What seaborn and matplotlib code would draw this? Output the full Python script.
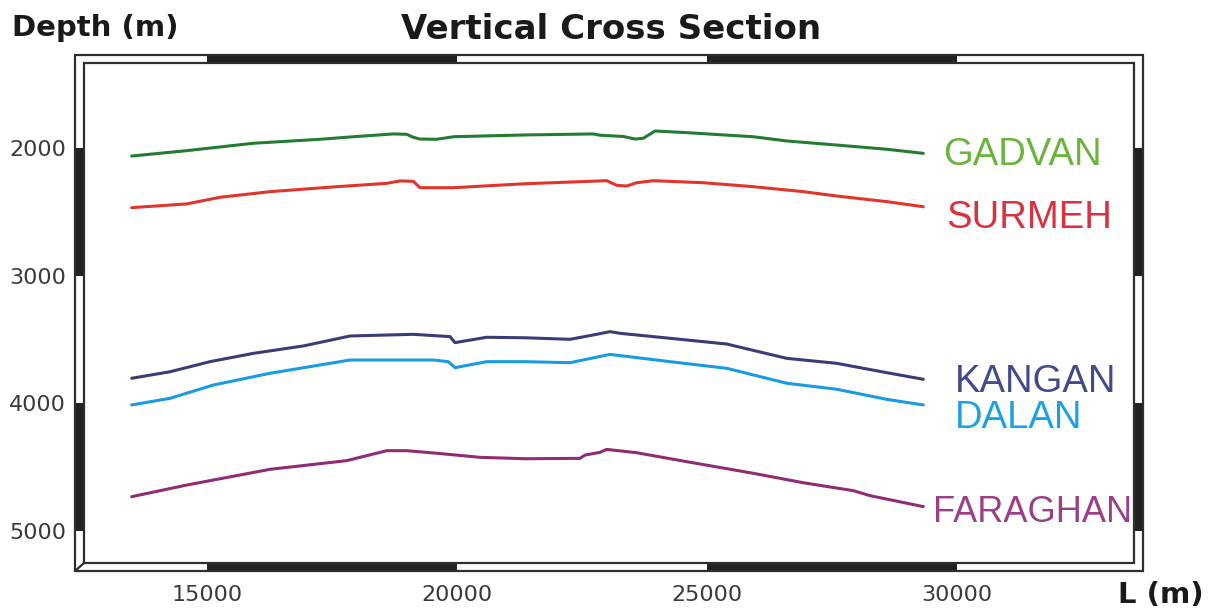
import numpy as np
import pandas as pd
import matplotlib
matplotlib.use("Agg")
import matplotlib.pyplot as plt
import matplotlib.transforms as mtransforms
from matplotlib.patches import Rectangle
from matplotlib.lines import Line2D
import seaborn as sns

# Horizon tops along the section: distance L (m) and depth (m)
gadvan_l = [13494, 14594, 15926, 17260, 17926, 18726, 18993, 19126, 19260, 19593, 19926,
            21360, 22726, 22860, 23326, 23560, 23726, 23960, 24594, 25926, 26594, 27594,
            28594, 29326]
gadvan_d = [2063, 2021, 1963, 1932, 1912, 1890, 1893, 1916, 1930, 1932, 1912,
            1898, 1890, 1900, 1910, 1930, 1924, 1867, 1880, 1912, 1945, 1977,
            2010, 2042]

surmeh_l = [13494, 14594, 15260, 16260, 17594, 18594, 18860, 19126, 19260, 19926, 21360,
            22994, 23194, 23394, 23594, 23926, 24926, 25926, 26926, 27594, 28594, 29326]
surmeh_d = [2467, 2438, 2386, 2342, 2303, 2277, 2258, 2261, 2311, 2311, 2280,
            2256, 2292, 2298, 2272, 2256, 2272, 2303, 2342, 2376, 2420, 2460]

kangan_l = [13494, 14260, 15060, 15926, 16926, 17860, 19126, 19860, 19960, 20594, 21360,
            22260, 22726, 23060, 23260, 24260, 25394, 26594, 27594, 28594, 29326]
kangan_d = [3803, 3752, 3673, 3608, 3550, 3472, 3459, 3477, 3524, 3482, 3486,
            3498, 3464, 3438, 3451, 3490, 3535, 3647, 3686, 3759, 3811]

dalan_l = [13494, 14260, 15126, 16260, 17260, 17860, 19526, 19826, 19960, 20594, 21360,
           22260, 23060, 24260, 25394, 26594, 27594, 28594, 29326]
dalan_d = [4012, 3960, 3856, 3764, 3699, 3660, 3660, 3673, 3720, 3673, 3673,
           3681, 3616, 3673, 3725, 3842, 3889, 3968, 4012]

faraghan_l = [13494, 14594, 16260, 17794, 18594, 18994, 19594, 20460, 21360, 22460, 22560,
              22860, 22994, 23594, 24594, 25926, 26926, 27926, 28260, 29326]
faraghan_d = [4730, 4639, 4516, 4448, 4370, 4370, 4390, 4422, 4433, 4430, 4404,
              4383, 4360, 4386, 4456, 4547, 4621, 4683, 4722, 4808]

horizons = ["GADVAN", "SURMEH", "KANGAN", "DALAN", "FARAGHAN"]
x_ticks = [15000, 20000, 25000, 30000]
y_ticks = [2000, 3000, 4000, 5000]

series = {
    "GADVAN": (gadvan_l, gadvan_d),
    "SURMEH": (surmeh_l, surmeh_d),
    "KANGAN": (kangan_l, kangan_d),
    "DALAN": (dalan_l, dalan_d),
    "FARAGHAN": (faraghan_l, faraghan_d),
}

line_colors = {"GADVAN": "#237b34", "SURMEH": "#e0342c", "KANGAN": "#3b3b76",
               "DALAN": "#1a9be0", "FARAGHAN": "#8e2d72"}
label_colors = {"GADVAN": "#6ab43e", "SURMEH": "#d9323e", "KANGAN": "#434a88",
                "DALAN": "#1ea0e4", "FARAGHAN": "#9b3f87"}
# label anchor (left edge, baseline) in section coordinates, and font size
label_pos = {"GADVAN": (29720, 2133), "SURMEH": (29780, 2626), "KANGAN": (29960, 3911),
             "DALAN": (29960, 4192), "FARAGHAN": (29520, 4928)}
label_size = {"GADVAN": 27.5, "SURMEH": 27.5, "KANGAN": 27.5, "DALAN": 27.5, "FARAGHAN": 26}

sns.set_theme(style="white")
plt.rcParams["font.family"] = ["DejaVu Sans"]

W, H = 1212, 613
fig = plt.figure(figsize=(W / 100, H / 100), dpi=100)
fig.patch.set_facecolor("white")
ax_l, ax_r, ax_t, ax_b = 75, 1143, 55, 571
ax = fig.add_axes([ax_l / W, 1 - ax_b / H, (ax_r - ax_l) / W, (ax_b - ax_t) / H])

frames = []
for name in horizons:
    l, d = series[name]
    frames.append(pd.DataFrame({"L": l, "Depth": d, "Horizon": name}))
df = pd.concat(frames, ignore_index=True)

sns.lineplot(data=df, x="L", y="Depth", hue="Horizon", palette=line_colors,
             estimator=None, sort=False, linewidth=2.2, legend=False, ax=ax)

ax.set_xlim(12360, 33720)
ax.set_ylim(5312, 1272)
ax.set_xticks(x_ticks)
ax.set_yticks(y_ticks)
ax.set_xticklabels([str(v) for v in x_ticks])
ax.set_yticklabels([str(v) for v in y_ticks])
ax.tick_params(axis="both", length=0, labelsize=16, labelcolor="#3a3a3a")
ax.tick_params(axis="y", pad=6.5)
ax.tick_params(axis="x", pad=10)
ax.set_xlabel("")
ax.set_ylabel("")
ax.grid(False)
for sp in ax.spines.values():
    sp.set_visible(False)

# Neatline: double frame with alternating black bands
fx0 = 9 / (ax_r - ax_l)
fy0 = 8 / (ax_b - ax_t)
edge = "#2e2e2e"
xband = mtransforms.blended_transform_factory(ax.transData, ax.transAxes)
yband = mtransforms.blended_transform_factory(ax.transAxes, ax.transData)
for x0 in (15000, 25000):
    ax.add_patch(Rectangle((x0, 1 - fy0), 5000, fy0, transform=xband,
                           facecolor="#222222", edgecolor="none", clip_on=False, zorder=3))
    ax.add_patch(Rectangle((x0, 0), 5000, fy0, transform=xband,
                           facecolor="#222222", edgecolor="none", clip_on=False, zorder=3))
for y0 in (2000, 4000):
    ax.add_patch(Rectangle((0, y0), fx0, 1000, transform=yband,
                           facecolor="#222222", edgecolor="none", clip_on=False, zorder=3))
    ax.add_patch(Rectangle((1 - fx0, y0), fx0, 1000, transform=yband,
                           facecolor="#222222", edgecolor="none", clip_on=False, zorder=3))
ax.add_patch(Rectangle((0, 0), 1, 1, transform=ax.transAxes, facecolor="none",
                       edgecolor=edge, linewidth=1.6, clip_on=False, zorder=4))
ax.add_patch(Rectangle((fx0, fy0), 1 - 2 * fx0, 1 - 2 * fy0, transform=ax.transAxes,
                       facecolor="none", edgecolor=edge, linewidth=1.6, clip_on=False, zorder=4))
ax.add_line(Line2D([0, fx0], [0, fy0], transform=ax.transAxes, color=edge,
                   linewidth=1.6, clip_on=False, zorder=4))

# Horizon names
for name in horizons:
    x, y = label_pos[name]
    ax.text(x, y, name, color=label_colors[name], fontsize=label_size[name],
            va="baseline", ha="left", family=["Liberation Sans", "DejaVu Sans"], zorder=5)

fig.text(611 / W, 1 - 39 / H, "Vertical Cross Section", ha="center", va="baseline",
         fontsize=24.5, fontweight="bold", color="#1a1a1a")
fig.text(12 / W, 1 - 36 / H, "Depth (m)", ha="left", va="baseline",
         fontsize=21, fontweight="bold", color="#1a1a1a")
fig.text(1118 / W, 1 - 603 / H, "L (m)", ha="left", va="baseline",
         fontsize=21, fontweight="bold", color="#1a1a1a")

fig.savefig("out.png", dpi=100, facecolor="white")
